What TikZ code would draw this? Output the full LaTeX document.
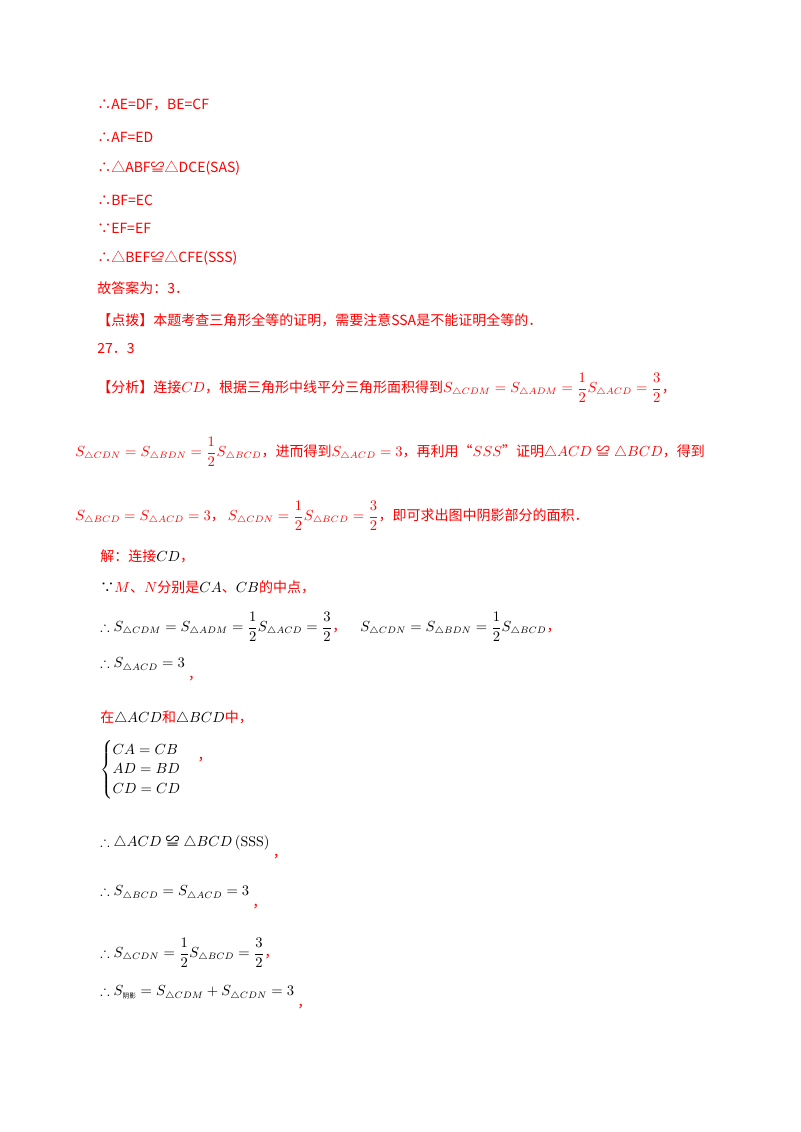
\documentclass[tikz,border=0pt]{standalone}
\usepackage{amsmath,amssymb}
\usepackage{fontspec}
\newfontfamily\cjk{Noto Sans CJK SC}
\definecolor{rd}{RGB}{255,0,0}
\newcommand{\tri}{\triangle}
\newcommand{\mycong}{\mathrel{\text{\cjk ≌}}}
\begin{document}
\begin{tikzpicture}[x=0.75pt,y=-0.75pt,
  t/.style={anchor=west,inner sep=0pt,font=\cjk\fontsize{10.5}{12}\selectfont,text=rd},
  m/.style={anchor=west,inner sep=0pt,font=\fontsize{10.5}{12}\selectfont},
  redcomma/.style={anchor=west,inner sep=0pt,font=\cjk\fontsize{10.5}{12}\selectfont,text=rd}]
\useasboundingbox[fill=white] (0,0) rectangle (800,1132);
\node[t] (l1) at (97,105) {∴AE=DF，BE=CF};
\node[t] (l2) at (97,137) {∴AF=ED};
\node[t] (l3) at (97,168) {∴△ABF≌△DCE(SAS)};
\node[t] (l4) at (97,200) {∴BF=EC};
\node[t] (l5) at (97,228) {∵EF=EF};
\node[t] (l6) at (97,258) {∴△BEF≌△CFE(SSS)};
\node[t] (l7) at (97,288) {故答案为：3．};
\node[t] (l8) at (97,320) {【点拨】本题考查三角形全等的证明，需要注意SSA是不能证明全等的．};
\node[t] (l9) at (97,349) {27．3};
\node[t] (a1) at (97,388) {【分析】连接$CD$，根据三角形中线平分三角形面积得到$S_{\tri CDM}=S_{\tri ADM}=\dfrac12 S_{\tri ACD}=\dfrac32$，};
\node[t] (a2) at (75,452) {$S_{\tri CDN}=S_{\tri BDN}=\dfrac12 S_{\tri BCD}$，进而得到$S_{\tri ACD}=3$，再利用“$SSS$”证明$\tri ACD\mycong\tri BCD$，得到};
\node[t] (a3) at (75,516) {$S_{\tri BCD}=S_{\tri ACD}=3$，\ $S_{\tri CDN}=\dfrac12 S_{\tri BCD}=\dfrac32$，即可求出图中阴影部分的面积．};
\node[t] (s1) at (100,556) {解：连接\textcolor{black}{$CD$}，};
\node[t] (s2) at (100,587) {\textcolor{black}{∵}$M$、$N$分别是\textcolor{black}{$CA$}、\textcolor{black}{$CB$}的中点，};
\node[m] (s3) at (100,627) {$\therefore S_{\tri CDM}=S_{\tri ADM}=\dfrac12 S_{\tri ACD}=\dfrac32$\textcolor{rd}{\cjk ，}\quad $S_{\tri CDN}=S_{\tri BDN}=\dfrac12 S_{\tri BCD}$\textcolor{rd}{\cjk ，}};
\node[m] (s4) at (100,665) {$\therefore S_{\tri ACD}=3$};
\node[redcomma] (c4) at ([xshift=2pt,yshift=-10pt]s4.east) {，};
\node[t] (s5) at (100,718) {在\textcolor{black}{$\tri ACD$}和\textcolor{black}{$\tri BCD$}中，};
\node[m] (s6) at (100,770) {$\begin{cases}CA=CB\\AD=BD\\CD=CD\end{cases}$};
\node[redcomma] (c6) at ([xshift=1pt,yshift=8pt]s6.east) {，};
\node[m] (s7) at (100,843) {$\therefore\tri ACD\mycong\tri BCD\left(\mathrm{SSS}\right)$};
\node[redcomma] (c7) at ([xshift=2pt,yshift=-10pt]s7.east) {，};
\node[m] (s8) at (100,893) {$\therefore S_{\tri BCD}=S_{\tri ACD}=3$};
\node[redcomma] (c8) at ([xshift=2pt,yshift=-10pt]s8.east) {，};
\node[m] (s9) at (100,953) {$\therefore S_{\tri CDN}=\dfrac12 S_{\tri BCD}=\dfrac32$\textcolor{rd}{\cjk ，}};
\node[m] (s10) at (100,993) {$\therefore S_{\text{\cjk\tiny 阴影}}=S_{\tri CDM}+S_{\tri CDN}=3$};
\node[redcomma] (c10) at ([xshift=2pt,yshift=-10pt]s10.east) {，};
\end{tikzpicture}
\end{document}
